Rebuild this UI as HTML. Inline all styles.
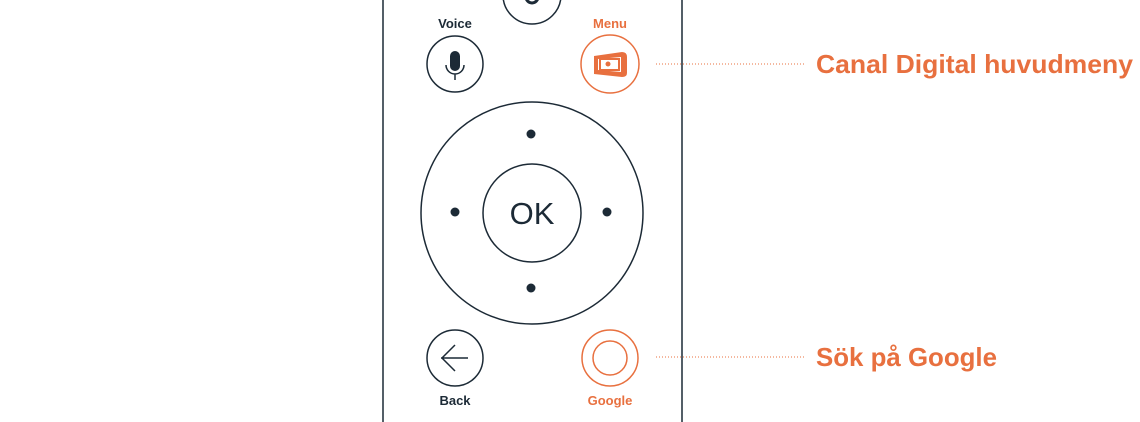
<!DOCTYPE html>
<html><head><meta charset="utf-8"><style>
html,body{margin:0;padding:0;background:#fff;width:1140px;height:422px;overflow:hidden}
svg{display:block}
</style></head><body>
<svg width="1140" height="422" viewBox="0 0 1140 422" xmlns="http://www.w3.org/2000/svg" font-family="Liberation Sans, sans-serif">
<g fill="none" stroke="#1c2a36" stroke-width="1.5">
<line x1="383" y1="0" x2="383" y2="422"/>
<line x1="682" y1="0" x2="682" y2="422"/>
<circle cx="532" cy="-5" r="29"/>
<circle cx="455" cy="64" r="28"/>
<circle cx="532" cy="213" r="111"/>
<circle cx="532" cy="213" r="49"/>
<circle cx="455" cy="358" r="28"/>
<path d="M441 358 H468 M455 345 L442 358 L455 371"/>
</g>
<path d="M526 -3 a6 6 0 0 0 12 0" fill="none" stroke="#1c2a36" stroke-width="3"/>
<g fill="#1c2a36">
<rect x="450" y="51" width="10" height="20" rx="5"/>
<circle cx="531" cy="134" r="4.5"/><circle cx="455" cy="212" r="4.5"/>
<circle cx="607" cy="212" r="4.5"/><circle cx="531" cy="288" r="4.5"/>
</g>
<path d="M446 65 a9 9 0 0 0 18 0 M455 74 V80" fill="none" stroke="#1c2a36" stroke-width="1.5"/>
<text x="532" y="224" font-size="31" text-anchor="middle" fill="#1c2a36">OK</text>
<text x="455" y="28" font-size="13" font-weight="bold" text-anchor="middle" fill="#1c2a36">Voice</text>
<text x="455" y="405" font-size="13" font-weight="bold" text-anchor="middle" fill="#1c2a36">Back</text>
<g fill="none" stroke="#e8703f" stroke-width="1.5">
<circle cx="610" cy="64" r="29"/>
<circle cx="610" cy="358" r="28"/>
<circle cx="610" cy="358" r="17"/>
</g>
<path d="M594 56 L622 52 Q627 52 627 57 L627 73 Q627 77 622 77 L594 74 Z M598 59 V70 L621 72 V57 Z" fill="#e8703f" fill-rule="evenodd"/>
<rect x="600" y="59" width="19" height="11" fill="none" stroke="#e8703f" stroke-width="2"/>
<circle cx="608" cy="64" r="2.5" fill="#e8703f"/>
<text x="610" y="28" font-size="13" font-weight="bold" text-anchor="middle" fill="#e8703f">Menu</text>
<text x="610" y="405" font-size="13" font-weight="bold" text-anchor="middle" fill="#e8703f">Google</text>
<g stroke="#e8703f" stroke-width="1" stroke-dasharray="1 2">
<line x1="656" y1="64" x2="805" y2="64"/>
<line x1="656" y1="357" x2="805" y2="357"/>
</g>
<text x="816" y="73" font-size="26" font-weight="bold" fill="#e8703f" textLength="317" lengthAdjust="spacingAndGlyphs">Canal Digital huvudmeny</text>
<text x="816" y="366" font-size="26" font-weight="bold" fill="#e8703f" textLength="181" lengthAdjust="spacingAndGlyphs">Sök på Google</text>
</svg>
</body></html>
